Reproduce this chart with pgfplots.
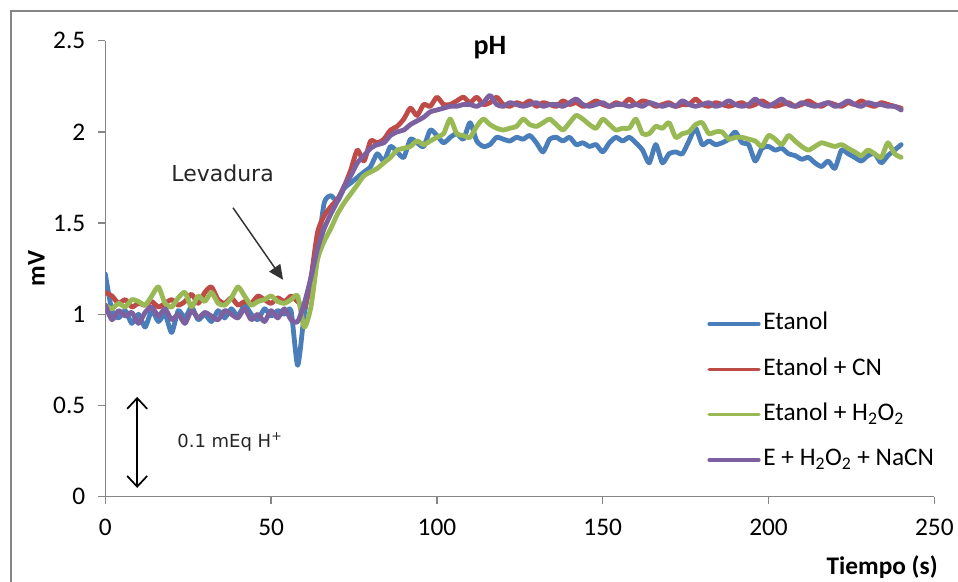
\documentclass[border=0pt]{standalone}
\usepackage{pgfplots}
\usepackage{pgfplotstable}
\pgfplotsset{compat=1.18}
\usepackage{fontspec}
\setmainfont{Carlito}
\newfontfamily\dejavu{DejaVu Sans}
\usetikzlibrary{arrows.meta}
\definecolor{cblue}{HTML}{4A7EBB}
\definecolor{cred}{HTML}{BE4B48}
\definecolor{cgreen}{HTML}{98B954}
\definecolor{cpurple}{HTML}{7D60A0}
\definecolor{axgray}{HTML}{868686}

\pgfplotstableread{
t b r g p
0 1.22 1.12 1.05 1.05
2 1.02 1.10 1.03 0.97
4 0.98 1.06 1.06 1.02
6 1.02 1.08 1.04 0.99
8 0.95 1.04 1.08 1.01
10 1.00 1.06 1.07 0.95
12 0.93 1.05 1.05 1.01
14 1.02 1.07 1.10 1.04
16 0.96 1.04 1.15 0.99
18 1.00 1.06 1.06 1.03
20 0.90 1.08 1.04 0.97
22 1.02 1.05 1.09 1.00
24 0.98 1.07 1.12 0.95
26 1.04 1.11 1.04 1.02
28 0.97 1.06 1.10 0.98
30 1.00 1.12 1.07 1.01
32 0.96 1.15 1.12 0.99
34 1.02 1.08 1.06 0.97
36 0.98 1.06 1.05 1.02
38 1.03 1.09 1.09 1.00
40 0.99 1.05 1.15 0.98
42 1.05 1.07 1.10 1.03
44 1.00 1.06 1.05 0.97
46 0.97 1.10 1.07 1.00
48 1.03 1.08 1.08 0.96
50 0.99 1.06 1.10 1.02
52 1.02 1.09 1.07 0.98
54 1.00 1.07 1.06 1.03
56 1.02 1.10 1.08 0.97
58 0.72 1.07 1.10 0.96
60 1.00 1.04 0.93 1.06
62 1.18 1.20 1.04 1.20
64 1.35 1.45 1.30 1.36
66 1.61 1.54 1.40 1.47
68 1.65 1.59 1.47 1.55
70 1.62 1.63 1.55 1.62
72 1.69 1.70 1.61 1.70
74 1.72 1.79 1.66 1.76
76 1.75 1.90 1.71 1.83
78 1.78 1.84 1.76 1.87
80 1.81 1.95 1.78 1.91
82 1.88 1.94 1.80 1.93
84 1.84 1.96 1.83 1.94
86 1.92 2.01 1.86 1.98
88 1.89 2.03 1.90 2.00
90 1.86 2.07 1.91 2.01
92 1.96 2.13 1.92 2.04
94 1.94 2.09 1.95 2.06
96 1.92 2.15 1.93 2.08
98 2.01 2.14 1.95 2.11
100 1.98 2.19 1.97 2.12
102 1.94 2.15 1.99 2.13
104 1.97 2.15 2.07 2.14
106 1.99 2.17 1.99 2.14
108 1.96 2.19 1.98 2.15
110 2.05 2.16 1.97 2.15
112 1.95 2.19 2.03 2.14
114 1.92 2.15 2.07 2.16
116 1.93 2.16 2.04 2.20
118 1.97 2.19 2.02 2.15
120 1.96 2.15 2.01 2.14
122 1.95 2.14 2.02 2.16
124 1.97 2.16 2.03 2.15
126 1.96 2.15 2.07 2.14
128 1.98 2.17 2.04 2.15
130 1.94 2.14 2.03 2.16
132 1.89 2.16 2.05 2.14
134 1.96 2.15 2.07 2.15
136 1.97 2.14 2.04 2.15
138 1.95 2.17 2.01 2.14
140 1.97 2.15 2.05 2.16
142 1.93 2.16 2.09 2.18
144 1.94 2.14 2.07 2.15
146 1.92 2.15 2.04 2.14
148 1.93 2.17 2.02 2.15
150 1.89 2.15 2.07 2.16
152 1.94 2.14 2.04 2.14
154 1.97 2.16 2.01 2.15
156 1.95 2.15 2.02 2.15
158 1.97 2.18 2.02 2.14
160 1.94 2.15 2.07 2.15
162 1.90 2.17 1.99 2.14
164 1.83 2.16 1.99 2.16
166 1.93 2.14 2.03 2.15
168 1.83 2.15 2.02 2.14
170 1.88 2.16 2.05 2.15
172 1.89 2.14 1.97 2.14
174 1.88 2.15 1.99 2.17
176 1.95 2.15 2.00 2.15
178 2.02 2.18 2.04 2.14
180 1.93 2.15 2.05 2.15
182 1.95 2.14 1.99 2.16
184 1.93 2.16 2.00 2.14
186 1.94 2.15 2.00 2.15
188 1.96 2.14 1.96 2.17
190 2.00 2.15 1.97 2.15
192 1.94 2.16 1.97 2.14
194 1.93 2.14 1.96 2.15
196 1.84 2.15 1.95 2.18
198 1.91 2.17 1.92 2.15
200 1.92 2.15 1.98 2.14
202 1.90 2.14 1.96 2.16
204 1.91 2.15 1.93 2.18
206 1.88 2.16 1.98 2.15
208 1.87 2.14 1.95 2.14
210 1.85 2.15 1.92 2.16
212 1.86 2.17 1.90 2.15
214 1.83 2.15 1.92 2.14
216 1.81 2.14 1.94 2.15
218 1.84 2.16 1.93 2.16
220 1.80 2.15 1.92 2.14
222 1.90 2.14 1.93 2.15
224 1.88 2.16 1.91 2.17
226 1.86 2.15 1.89 2.15
228 1.84 2.17 1.87 2.14
230 1.87 2.15 1.90 2.16
232 1.88 2.14 1.88 2.15
234 1.83 2.16 1.86 2.15
236 1.87 2.15 1.94 2.14
238 1.90 2.14 1.88 2.14
240 1.93 2.13 1.86 2.12
}\datatable

\begin{document}
\begin{tikzpicture}
\useasboundingbox (-79pt,-64pt) rectangle (639.5pt,372.5pt);
\draw[color=axgray, line width=1.1pt] (-70.7pt,-64pt) -- (-70.7pt,364.3pt) -- (639.5pt,364.3pt);
\begin{axis}[
  scale only axis,
  width=621.75pt, height=342pt,
  at={(0,0)}, anchor=south west,
  xmin=0, xmax=250, ymin=0, ymax=2.5,
  axis x line*=bottom, axis y line*=left,
  axis line style={color=axgray, line width=1.1pt, -},
  xtick={0,50,100,150,200,250},
  ytick={0,0.5,1,1.5,2,2.5},
  yticklabels={0,0.5,1,1.5,2,2.5},
  tick align=outside,
  major tick length=5.5pt,
  tick style={color=axgray, line width=1.1pt},
  /pgf/number format/assume math mode=true,
  tick label style={font=\fontsize{19}{22}\selectfont, text=black},
  yticklabel style={xshift=-6pt},
  xticklabel style={yshift=-8pt},
  xlabel={\textbf{Tiempo (s)}},
  ylabel={\textbf{mV}},
  label style={font=\fontsize{19}{22}\selectfont},
  xlabel style={at={(rel axis cs:1,0)}, anchor=north east, xshift=6pt, yshift=-41pt},
  ylabel style={at={(rel axis cs:0,0.5)}, yshift=42pt},
  title={\textbf{pH}},
  title style={at={(axis cs:116,2.42)}, anchor=center, font=\fontsize{21}{24}\selectfont},
  legend cell align=left,
  legend style={draw=none, fill=none, at={(rel axis cs:0.726,0.41)}, anchor=north west,
    font=\fontsize{19}{22}\selectfont, row sep=13pt, inner sep=0pt,
    nodes={inner sep=2pt, text height=13pt, text depth=4pt}},
  legend image code/.code={\draw[line width=2.4pt] (0pt,0pt) -- (37.5pt,0pt);},
  every axis plot/.append style={line width=3.6pt, line join=round, line cap=round, smooth, tension=0.4},
]
\addplot[cblue] table[x=t,y=b]{\datatable};
\addlegendentry{Etanol}
\addplot[cred] table[x=t,y=r]{\datatable};
\addlegendentry{Etanol + CN}
\addplot[cgreen] table[x=t,y=g]{\datatable};
\addlegendentry{Etanol + H\textsubscript{2}O\textsubscript{2}}
\addplot[cpurple] table[x=t,y=p]{\datatable};
\addlegendentry{E + H\textsubscript{2}O\textsubscript{2} + NaCN}

\node[anchor=west, font=\dejavu\fontsize{16.5}{19}\selectfont, text=black!85] at (axis cs:18.5,1.775) {Levadura};
\draw[line width=1.1pt, color=black!80, -{Triangle[length=11pt,width=10pt]}] (axis cs:38.5,1.584) -- (axis cs:53.6,1.189);
\draw[line width=1.3pt, {Straight Barb[length=8pt,width=15pt]}-{Straight Barb[length=8pt,width=15pt]}] (axis cs:9.6,0.048) -- (axis cs:9.6,0.547);
\node[anchor=west, font=\dejavu\fontsize{13.5}{16}\selectfont, text=black!85] at (axis cs:20.3,0.30) {0.1 mEq H\textsuperscript{+}};
\end{axis}
\end{tikzpicture}
\end{document}
